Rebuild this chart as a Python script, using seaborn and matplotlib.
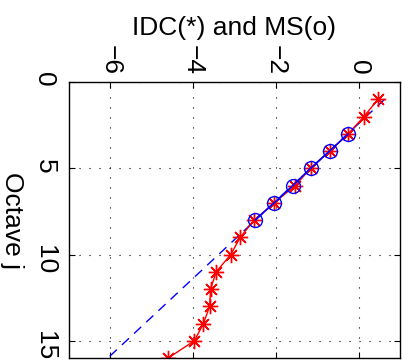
import matplotlib
matplotlib.use("Agg")
import matplotlib.pyplot as plt
import seaborn as sns

# ---- data ----
octave_idc = [1, 2, 3, 4, 5, 6, 7, 8, 9, 10, 11, 12, 13, 14, 15, 16]
idc_values = [0.47, 0.13, -0.25, -0.70, -1.16, -1.53, -2.04, -2.52,
              -2.86, -3.09, -3.44, -3.58, -3.60, -3.75, -3.97, -4.60]
octave_ms = [3, 4, 5, 6, 7, 8]
ms_values = [-0.25, -0.70, -1.16, -1.59, -2.04, -2.50]
fit_octave = [1, 16]
fit_values = [0.63, -6.06]
x_ticks = [-6, -4, -2, 0]
y_ticks = [0, 5, 10, 15]
x_label = "IDC(*) and MS(o)"
y_label = "Octave j"

sns.set_style("white")
plt.rcParams['font.family'] = ['Liberation Sans', 'DejaVu Sans']
plt.rcParams['text.color'] = 'black'
plt.rcParams['axes.labelcolor'] = 'black'
plt.rcParams['xtick.color'] = 'black'
plt.rcParams['ytick.color'] = 'black'

W, H = 412, 362
fig = plt.figure(figsize=(W / 100, H / 100), dpi=100)
ax = fig.add_axes([69 / W, 1 - 358 / H, 331 / W, 276 / H])

star = (8, 2, 0)

sns.lineplot(x=fit_values, y=fit_octave, sort=False, estimator=None, ax=ax,
             color='blue', linewidth=1.0, linestyle=(0, (7, 5)))
sns.lineplot(x=idc_values, y=octave_idc, sort=False, estimator=None, ax=ax,
             color='red', linewidth=1.0, marker=star, markersize=11,
             markeredgecolor='red', markeredgewidth=1.0)
sns.lineplot(x=ms_values, y=octave_ms, sort=False, estimator=None, ax=ax,
             color='blue', linewidth=1.2, marker='o', markersize=10,
             markerfacecolor='none', markeredgecolor='blue', markeredgewidth=1.0)

ax.set_xlim(-7, 1)
ax.set_ylim(16, 0)
ax.set_xticks(x_ticks)
ax.set_yticks(y_ticks)
ax.set_xticklabels([f"{t:d}".replace('-', '\u2212') for t in x_ticks])
ax.set_yticklabels([str(t) for t in y_ticks])

ax.xaxis.tick_top()
ax.xaxis.set_label_position('top')
ax.tick_params(direction='in', length=4, width=0.8, colors='black',
               labelcolor='black',
               top=True, bottom=True, left=True, right=True,
               labeltop=True, labelbottom=False, labelsize=19)
ax.tick_params(axis='x', pad=5)
ax.tick_params(axis='y', pad=9)
for lab in ax.get_xticklabels():
    lab.set_rotation(-90)
for lab in ax.get_yticklabels():
    lab.set_rotation(-90)

ax.set_xlabel(x_label, fontsize=19, labelpad=7, color='black')
ax.set_ylabel(y_label, fontsize=19, rotation=-90, va='top', labelpad=6,
              color='black')

ax.grid(True, color='black', linestyle=(0, (1, 8)), linewidth=0.8)
for sp in ax.spines.values():
    sp.set_color('black')
    sp.set_linewidth(1.0)
    sp.set_visible(True)

fig.savefig("out.png", dpi=100)
